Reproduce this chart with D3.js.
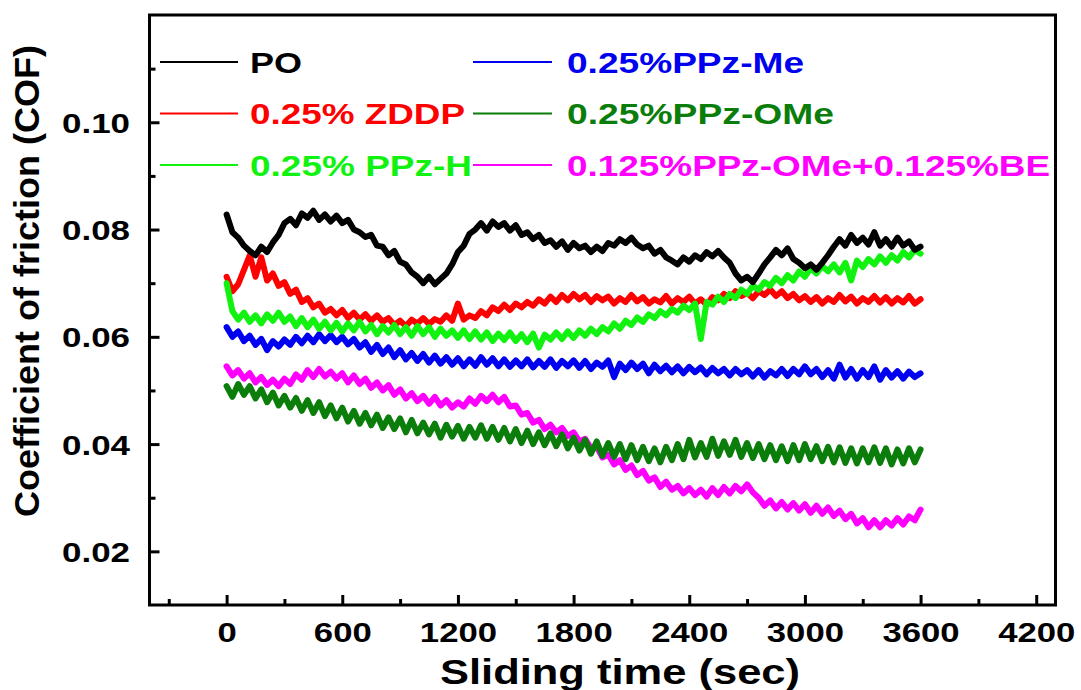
<!DOCTYPE html>
<html>
<head>
<meta charset="utf-8">
<script src="https://cdn.jsdelivr.net/npm/d3@7/dist/d3.min.js"></script>
<style>
  html, body { margin: 0; padding: 0; background: #fff; }
  svg { display: block; }
  text { font-family: "Liberation Sans", Arial, Helvetica, sans-serif; font-weight: bold; }
</style>
</head>
<body>
<svg id="chart" width="1081" height="690"></svg>
<script>
const timeStep = 30;
const seriesNames = ["PO", "0.25% ZDDP", "0.25% PPz-H", "0.25%PPz-Me", "0.25%PPz-OMe", "0.125%PPz-OMe+0.125%BE"];

const PO = [0.0828,0.0795,0.0785,0.0770,0.0760,0.0752,0.0768,0.0758,0.0776,0.0790,
0.0812,0.0820,0.0808,0.0830,0.0822,0.0835,0.0818,0.0828,0.0815,0.0826,
0.0812,0.0818,0.0800,0.0795,0.0786,0.0790,0.0770,0.0768,0.0752,0.0760,
0.0740,0.0735,0.0720,0.0712,0.0700,0.0712,0.0698,0.0708,0.0718,0.0735,
0.0758,0.0770,0.0792,0.0800,0.0812,0.0798,0.0815,0.0805,0.0812,0.0798,
0.0808,0.0790,0.0795,0.0782,0.0790,0.0775,0.0780,0.0768,0.0778,0.0762,
0.0775,0.0765,0.0770,0.0758,0.0768,0.0760,0.0775,0.0770,0.0782,0.0775,
0.0785,0.0772,0.0765,0.0770,0.0755,0.0762,0.0748,0.0742,0.0735,0.0748,
0.0740,0.0752,0.0745,0.0758,0.0750,0.0760,0.0748,0.0738,0.0718,0.0705,
0.0712,0.0702,0.0718,0.0735,0.0748,0.0762,0.0752,0.0765,0.0745,0.0738,
0.0728,0.0735,0.0725,0.0738,0.0752,0.0768,0.0782,0.0770,0.0790,0.0775,
0.0785,0.0772,0.0795,0.0770,0.0782,0.0768,0.0785,0.0770,0.0778,0.0762,
0.0768];

const ZDDP = [0.0712,0.0685,0.0698,0.0725,0.0752,0.0712,0.0748,0.0705,0.0718,0.0695,
0.0702,0.0680,0.0688,0.0665,0.0672,0.0655,0.0662,0.0645,0.0652,0.0640,
0.0650,0.0635,0.0645,0.0632,0.0642,0.0630,0.0640,0.0628,0.0635,0.0622,
0.0630,0.0620,0.0632,0.0625,0.0635,0.0624,0.0633,0.0628,0.0640,0.0630,
0.0662,0.0632,0.0640,0.0635,0.0648,0.0640,0.0655,0.0648,0.0660,0.0650,
0.0662,0.0655,0.0665,0.0658,0.0670,0.0662,0.0675,0.0665,0.0678,0.0668,
0.0680,0.0670,0.0678,0.0665,0.0676,0.0668,0.0675,0.0662,0.0672,0.0665,
0.0678,0.0666,0.0674,0.0662,0.0670,0.0664,0.0676,0.0662,0.0672,0.0665,
0.0675,0.0662,0.0670,0.0660,0.0674,0.0668,0.0680,0.0672,0.0685,0.0676,
0.0682,0.0672,0.0685,0.0678,0.0688,0.0676,0.0685,0.0672,0.0680,0.0668,
0.0676,0.0665,0.0674,0.0662,0.0672,0.0665,0.0678,0.0666,0.0675,0.0662,
0.0672,0.0665,0.0676,0.0664,0.0674,0.0662,0.0672,0.0664,0.0676,0.0662,
0.0670];

const PPzH = [0.0700,0.0648,0.0632,0.0645,0.0628,0.0640,0.0625,0.0642,0.0630,0.0645,
0.0628,0.0638,0.0620,0.0635,0.0618,0.0632,0.0615,0.0628,0.0612,0.0626,
0.0610,0.0625,0.0612,0.0628,0.0610,0.0622,0.0605,0.0620,0.0608,0.0622,
0.0605,0.0618,0.0602,0.0620,0.0605,0.0618,0.0600,0.0615,0.0602,0.0612,
0.0598,0.0612,0.0596,0.0610,0.0595,0.0608,0.0592,0.0606,0.0594,0.0608,
0.0592,0.0605,0.0590,0.0606,0.0580,0.0604,0.0595,0.0608,0.0596,0.0610,
0.0598,0.0612,0.0602,0.0615,0.0605,0.0618,0.0610,0.0625,0.0615,0.0630,
0.0622,0.0636,0.0628,0.0642,0.0635,0.0648,0.0640,0.0652,0.0645,0.0658,
0.0650,0.0662,0.0596,0.0665,0.0660,0.0675,0.0665,0.0680,0.0672,0.0688,
0.0680,0.0695,0.0688,0.0702,0.0695,0.0710,0.0700,0.0715,0.0705,0.0722,
0.0712,0.0728,0.0718,0.0732,0.0722,0.0735,0.0720,0.0738,0.0705,0.0742,
0.0730,0.0745,0.0735,0.0750,0.0738,0.0752,0.0742,0.0758,0.0748,0.0762,
0.0755];

const PPzMe = [0.0618,0.0600,0.0610,0.0592,0.0602,0.0585,0.0596,0.0575,0.0592,0.0582,
0.0595,0.0585,0.0600,0.0588,0.0602,0.0590,0.0605,0.0592,0.0603,0.0590,
0.0600,0.0586,0.0596,0.0580,0.0590,0.0572,0.0585,0.0568,0.0580,0.0562,
0.0575,0.0558,0.0570,0.0555,0.0568,0.0552,0.0565,0.0550,0.0562,0.0548,
0.0560,0.0545,0.0558,0.0546,0.0562,0.0548,0.0560,0.0545,0.0558,0.0544,
0.0556,0.0545,0.0558,0.0543,0.0555,0.0544,0.0558,0.0542,0.0555,0.0545,
0.0556,0.0542,0.0555,0.0540,0.0552,0.0544,0.0556,0.0525,0.0550,0.0538,
0.0552,0.0540,0.0550,0.0532,0.0548,0.0536,0.0546,0.0534,0.0545,0.0532,
0.0544,0.0534,0.0543,0.0530,0.0542,0.0532,0.0540,0.0528,0.0540,0.0530,
0.0538,0.0526,0.0538,0.0524,0.0536,0.0528,0.0540,0.0527,0.0540,0.0530,
0.0545,0.0530,0.0540,0.0525,0.0538,0.0522,0.0548,0.0524,0.0540,0.0522,
0.0538,0.0525,0.0545,0.0520,0.0538,0.0524,0.0536,0.0522,0.0535,0.0525,
0.0532];

const PPzOMe = [0.0508,0.0488,0.0512,0.0492,0.0508,0.0485,0.0502,0.0478,0.0496,0.0472,
0.0490,0.0468,0.0486,0.0462,0.0482,0.0458,0.0478,0.0452,0.0472,0.0448,
0.0468,0.0442,0.0462,0.0438,0.0458,0.0435,0.0455,0.0430,0.0450,0.0428,
0.0448,0.0422,0.0445,0.0420,0.0440,0.0418,0.0438,0.0412,0.0436,0.0414,
0.0434,0.0410,0.0432,0.0412,0.0435,0.0410,0.0432,0.0408,0.0430,0.0405,
0.0428,0.0402,0.0425,0.0400,0.0422,0.0398,0.0420,0.0396,0.0418,0.0392,
0.0412,0.0388,0.0408,0.0382,0.0405,0.0378,0.0402,0.0376,0.0400,0.0372,
0.0398,0.0370,0.0395,0.0368,0.0392,0.0366,0.0395,0.0370,0.0400,0.0372,
0.0408,0.0375,0.0402,0.0376,0.0410,0.0378,0.0405,0.0380,0.0408,0.0376,
0.0402,0.0374,0.0400,0.0372,0.0398,0.0370,0.0396,0.0368,0.0398,0.0370,
0.0400,0.0372,0.0396,0.0368,0.0395,0.0366,0.0394,0.0365,0.0392,0.0364,
0.0392,0.0366,0.0394,0.0365,0.0392,0.0362,0.0390,0.0364,0.0392,0.0366,
0.0390];

const PPzOMeBE = [0.0545,0.0528,0.0538,0.0522,0.0532,0.0515,0.0525,0.0510,0.0520,0.0508,
0.0522,0.0512,0.0530,0.0520,0.0538,0.0525,0.0540,0.0526,0.0535,0.0522,
0.0532,0.0515,0.0528,0.0512,0.0522,0.0505,0.0515,0.0500,0.0510,0.0492,
0.0502,0.0485,0.0495,0.0480,0.0490,0.0475,0.0488,0.0472,0.0482,0.0468,
0.0478,0.0470,0.0485,0.0475,0.0490,0.0480,0.0492,0.0478,0.0488,0.0470,
0.0472,0.0455,0.0458,0.0440,0.0445,0.0428,0.0436,0.0422,0.0430,0.0415,
0.0422,0.0405,0.0410,0.0392,0.0395,0.0375,0.0380,0.0362,0.0370,0.0352,
0.0360,0.0342,0.0350,0.0332,0.0338,0.0320,0.0330,0.0315,0.0322,0.0308,
0.0318,0.0305,0.0315,0.0302,0.0318,0.0305,0.0320,0.0308,0.0322,0.0312,
0.0325,0.0310,0.0300,0.0285,0.0295,0.0280,0.0292,0.0278,0.0290,0.0276,
0.0288,0.0272,0.0285,0.0270,0.0282,0.0266,0.0276,0.0260,0.0270,0.0252,
0.0262,0.0245,0.0258,0.0245,0.0258,0.0248,0.0262,0.0250,0.0265,0.0258,
0.0278];

const xMajorTicks = [0, 600, 1200, 1800, 2400, 3000, 3600, 4200];
const xMinorTicks = [-300, 300, 900, 1500, 2100, 2700, 3300, 3900];
const yMajorTicks = [0.02, 0.04, 0.06, 0.08, 0.10];
const yMinorTicks = [0.03, 0.05, 0.07, 0.09, 0.11];
const xTitle = "Sliding time (sec)";
const yTitle = "Coefficient of friction (COF)";

// ---- Layout / style ----
const svg = d3.select("#chart");
const L = 149.5, R = 1055.5, T = 15, B = 605;
const x = d3.scaleLinear().domain([-400, 4300]).range([L, R]);
const y = d3.scaleLinear().domain([0.01, 0.12]).range([B, T]);

const series = [
  {name: seriesNames[5], values: PPzOMeBE, color: "#ff00ff"},
  {name: seriesNames[4], values: PPzOMe,   color: "#0b7d0b"},
  {name: seriesNames[3], values: PPzMe,    color: "#0000f0"},
  {name: seriesNames[1], values: ZDDP,     color: "#ff0000"},
  {name: seriesNames[2], values: PPzH,     color: "#11f211"},
  {name: seriesNames[0], values: PO,       color: "#000000"}
];

const line = d3.line()
  .x((d, i) => x(i * timeStep))
  .y(d => y(d));

svg.append("g").selectAll("path").data(series).join("path")
  .attr("d", d => line(d.values))
  .attr("fill", "none")
  .attr("stroke", d => d.color)
  .attr("stroke-width", 6)
  .attr("stroke-linejoin", "round")
  .attr("stroke-linecap", "round");

// Axes (inward ticks)
const gx = svg.append("g").attr("transform", `translate(0,${B})`)
  .call(d3.axisBottom(x).tickValues(xMajorTicks).tickSize(-10).tickSizeOuter(0).tickFormat(d3.format("d")));
const gxm = svg.append("g").attr("transform", `translate(0,${B})`)
  .call(d3.axisBottom(x).tickValues(xMinorTicks).tickSize(-6).tickSizeOuter(0).tickFormat(""));
const gy = svg.append("g").attr("transform", `translate(${L},0)`)
  .call(d3.axisLeft(y).tickValues(yMajorTicks).tickSize(-10).tickSizeOuter(0).tickFormat(d3.format(".2f")));
const gym = svg.append("g").attr("transform", `translate(${L},0)`)
  .call(d3.axisLeft(y).tickValues(yMinorTicks).tickSize(-6).tickSizeOuter(0).tickFormat(""));

[gx, gxm, gy, gym].forEach(g => {
  g.select(".domain").remove();
  g.selectAll(".tick line").attr("stroke", "#000").attr("stroke-width", 3);
});

gx.selectAll(".tick text")
  .attr("y", 37).attr("dy", null)
  .attr("fill", "#000")
  .style("font-size", "28px")
  .attr("textLength", function() { return this.textContent.length * 19.3; })
  .attr("lengthAdjust", "spacingAndGlyphs");

gy.selectAll(".tick text")
  .attr("x", 130 - L).attr("dy", null).attr("y", 10)
  .attr("fill", "#000")
  .style("font-size", "28px")
  .attr("text-anchor", "end")
  .attr("textLength", 68)
  .attr("lengthAdjust", "spacingAndGlyphs");

// Frame
svg.append("rect")
  .attr("x", L).attr("y", T).attr("width", R - L).attr("height", B - T)
  .attr("fill", "none").attr("stroke", "#000").attr("stroke-width", 3);

// Axis titles
svg.append("text")
  .attr("x", 620).attr("y", 684)
  .attr("text-anchor", "middle")
  .style("font-size", "35px")
  .attr("textLength", 360).attr("lengthAdjust", "spacingAndGlyphs")
  .text(xTitle);

svg.append("text")
  .attr("transform", "translate(39,281) rotate(-90)")
  .attr("text-anchor", "middle")
  .style("font-size", "35px")
  .attr("textLength", 472).attr("lengthAdjust", "spacingAndGlyphs")
  .text(yTitle);

// Legend
const legendItems = [
  {name: seriesNames[0], color: "#000000", col: 0, row: 0, w: 52},
  {name: seriesNames[1], color: "#ff0000", col: 0, row: 1, w: 215},
  {name: seriesNames[2], color: "#11f211", col: 0, row: 2, w: 222},
  {name: seriesNames[3], color: "#0000f0", col: 1, row: 0, w: 237},
  {name: seriesNames[4], color: "#0b7d0b", col: 1, row: 1, w: 267},
  {name: seriesNames[5], color: "#ff00ff", col: 1, row: 2, w: 483}
];
const colX = [{x1: 160, x2: 238, tx: 250}, {x1: 473, x2: 552, tx: 567}];
const rowY = [62, 113.5, 165];

const lg = svg.append("g").selectAll("g").data(legendItems).join("g");
lg.append("line")
  .attr("x1", d => colX[d.col].x1).attr("x2", d => colX[d.col].x2)
  .attr("y1", d => rowY[d.row]).attr("y2", d => rowY[d.row])
  .attr("stroke", d => d.color).attr("stroke-width", 2.2);
lg.append("text")
  .attr("x", d => colX[d.col].tx).attr("y", d => rowY[d.row] + 10.5)
  .attr("fill", d => d.color)
  .style("font-size", "30px")
  .attr("textLength", d => d.w).attr("lengthAdjust", "spacingAndGlyphs")
  .text(d => d.name);
</script>
</body>
</html>
